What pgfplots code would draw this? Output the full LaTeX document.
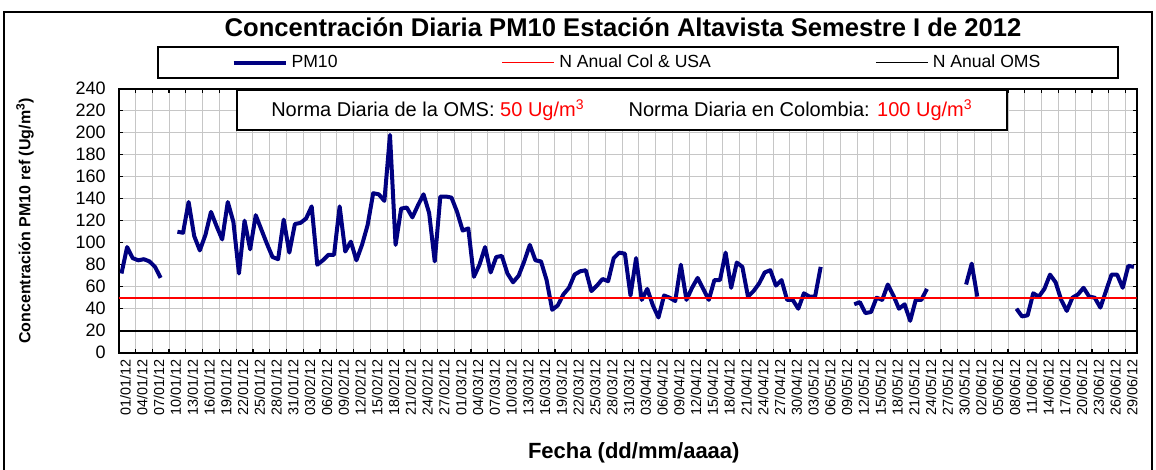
\documentclass[border=0pt]{standalone}
\usepackage{pgfplots}
\usepackage{pgfplotstable}
\pgfplotsset{compat=1.18}
\usepackage{fontspec}
\setmainfont{Liberation Sans}
\definecolor{pmnavy}{RGB}{0,0,128}

% PM10 diario, dia 0 = 01/01/2012
\pgfplotstableread{
d v
0 72
1 96
2 86
3 84
4 85
5 83
6 78
7 68
8 nan
9 nan
10 110
11 109
12 137
13 106
14 93
15 107
16 128
17 115
18 103
19 137
20 119
21 72
22 120
23 94
24 125
25 112
26 99
27 87
28 85
29 121
30 91
31 117
32 118
33 122
34 133
35 80
36 84
37 89
38 89
39 133
40 92
41 101
42 84
43 98
44 116
45 145
46 144
47 138
48 198
49 98
50 131
51 132
52 123
53 134
54 144
55 127
56 83
57 142
58 142
59 141
60 128
61 111
62 113
63 69
64 80
65 96
66 73
67 87
68 88
69 72
70 64
71 70
72 83
73 98
74 84
75 83
76 66
77 39
78 43
79 53
80 59
81 71
82 74
83 75
84 56
85 61
86 67
87 65
88 86
89 91
90 90
91 52
92 86
93 48
94 58
95 43
96 32
97 52
98 50
99 47
100 80
101 48
102 59
103 68
104 58
105 48
106 66
107 66
108 91
109 59
110 82
111 78
112 51
113 56
114 63
115 73
116 75
117 61
118 66
119 48
120 48
121 40
122 54
123 51
124 51
125 78
126 nan
127 nan
128 nan
129 nan
130 nan
131 44
132 46
133 36
134 37
135 50
136 48
137 62
138 52
139 40
140 44
141 29
142 48
143 48
144 58
145 nan
146 nan
147 nan
148 nan
149 nan
150 nan
151 62
152 81
153 51
154 nan
155 nan
156 nan
157 nan
158 nan
159 nan
160 40
161 33
162 34
163 54
164 51
165 58
166 71
167 64
168 48
169 38
170 50
171 53
172 59
173 51
174 50
175 41
176 56
177 71
178 71
179 59
180 79
181 78
}\pmdata

\begin{document}
\begin{tikzpicture}
\begin{scope}[x=0.5pt,y=-0.5pt]
  \path[use as bounding box] (0,0) rectangle (1156,462);
  \draw[line width=1pt] (4,12) rectangle (1152,480);
  % marco de la leyenda
  \draw[line width=0.9pt] (158,47) rectangle (1118,78);
\end{scope}
\begin{axis}[
    at={(59.35pt,-176.35pt)}, anchor=south west,
    scale only axis,
    width=509pt, height=132pt,
    xmin=-0.5, xmax=181.5,
    ymin=0, ymax=240,
    xtick={0,3,...,180},
    xticklabels={01/01/12,04/01/12,07/01/12,10/01/12,13/01/12,16/01/12,19/01/12,22/01/12,25/01/12,28/01/12,31/01/12,03/02/12,06/02/12,09/02/12,12/02/12,15/02/12,18/02/12,21/02/12,24/02/12,27/02/12,01/03/12,04/03/12,07/03/12,10/03/12,13/03/12,16/03/12,19/03/12,22/03/12,25/03/12,28/03/12,31/03/12,03/04/12,06/04/12,09/04/12,12/04/12,15/04/12,18/04/12,21/04/12,24/04/12,27/04/12,30/04/12,03/05/12,06/05/12,09/05/12,12/05/12,15/05/12,18/05/12,21/05/12,24/05/12,27/05/12,30/05/12,02/06/12,05/06/12,08/06/12,11/06/12,14/06/12,17/06/12,20/06/12,23/06/12,26/06/12,29/06/12},
    minor xtick={-0.5,2.5,...,179.5},
    major x tick style={draw=none},
    xminorgrids=true,
    ytick={0,20,...,240},
    ymajorgrids=true,
    grid style={gray!45, line width=0.5pt},
    minor grid style={gray!45, line width=0.5pt},
    tick align=inside,
    major tick length=2pt, minor tick length=2pt,
    tick style={black, line width=0.6pt},
    axis line style={line width=1.1pt},
    /pgf/number format/assume math mode=true,
    xticklabel style={rotate=90, anchor=east, font=\fontsize{7.2}{8}\selectfont, yshift=-2pt},
    yticklabel style={font=\fontsize{9}{10}\selectfont, xshift=-3pt},
    title={Concentración Diaria PM10 Estación Altavista Semestre I de 2012},
    every axis title shift=0pt,
    title style={at={(axis description cs:0.4954,1.2337)}, anchor=center, yshift=0pt, font=\fontsize{12.8}{14}\selectfont\bfseries},
    xlabel={Fecha (dd/mm/aaaa)},
    xlabel style={at={(axis description cs:0.506,-0.38)}, anchor=center, font=\fontsize{11}{12}\selectfont\bfseries},
    ylabel={Concentración PM10 ref (Ug/m\textsuperscript{3})},
    ylabel style={at={(axis description cs:-0.092,0.5)}, anchor=center, font=\fontsize{8}{9}\selectfont\bfseries},
    legend columns=3,
    legend image code/.code={\draw[#1] (0pt,0pt) -- (26pt,0pt);},
    legend style={at={(axis description cs:0.5101,1.0992)}, anchor=center,
      draw=none, fill=none, inner xsep=37pt, inner ysep=2pt,
      font=\fontsize{8.8}{10}\selectfont,
      /tikz/every even column/.append style={column sep=80pt}},
    unbounded coords=jump,
  ]
  \addplot[draw=pmnavy, line width=2pt, line join=round] table[x=d, y=v] {\pmdata};
  \addlegendentry{PM10}
  \addplot[draw=red, line width=0.9pt] coordinates {(-0.5,50) (181.5,50)};
  \addlegendentry{N Anual Col \& USA}
  \addplot[draw=black, line width=0.9pt] coordinates {(-0.5,20) (181.5,20)};
  \addlegendentry{N Anual OMS}
\end{axis}
\begin{scope}[x=0.5pt,y=-0.5pt]
  \node[draw=black, line width=1pt, fill=white, minimum width=385pt, minimum height=20pt,
        font=\fontsize{10}{12}\selectfont] at (622,110)
    {Norma Diaria de la OMS: \textcolor{red}{50 Ug/m\textsuperscript{3}}\hspace{22pt}Norma Diaria en Colombia: \textcolor{red}{100 Ug/m\textsuperscript{3}}};
\end{scope}
\end{tikzpicture}
\end{document}
